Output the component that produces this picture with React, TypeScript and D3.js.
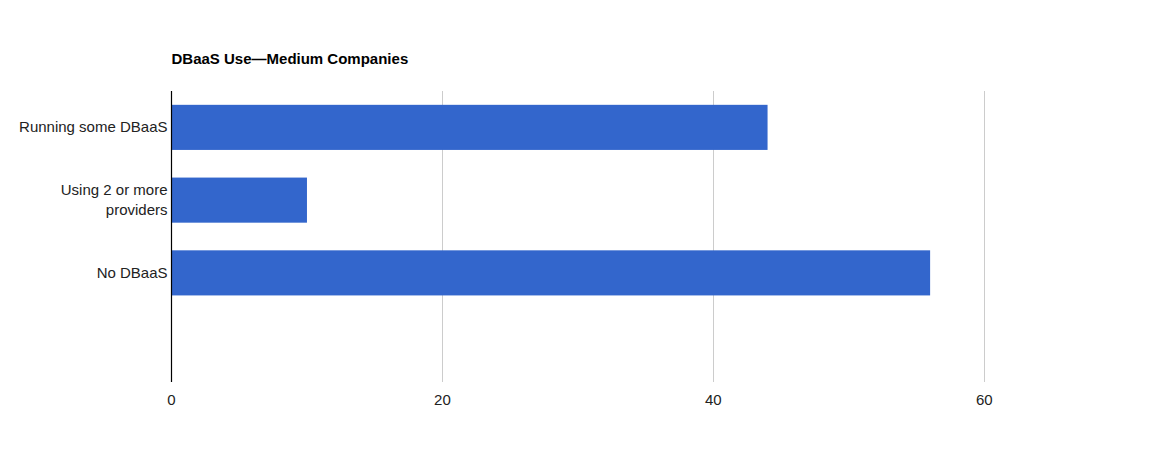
import React from "react";
import * as d3 from "d3";

const title = "DBaaS Use—Medium Companies";
const categories = ["Running some DBaaS", "Using 2 or more providers", "No DBaaS"];
const values = [44, 10, 56];
const categoryLines = [["Running some DBaaS"], ["Using 2 or more", "providers"], ["No DBaaS"]];
const xTicks = [0, 20, 40, 60];

export default function App() {
  const W = 1156, H = 473;
  const left = 171.5, top = 91, bottom = 382;
  const x = d3.scaleLinear().domain([0, 60]).range([left, 984.3]);
  const y = d3
    .scaleBand<string>()
    .domain([...categories, "__empty__"])
    .range([top, bottom])
    .paddingInner(0.38)
    .paddingOuter(0.19);
  const font = "Arial, 'Liberation Sans', sans-serif";
  return (
    <svg width={W} height={H} style={{ position: "absolute", left: 0, top: 0 }} fontFamily={font}>
      <rect x={0} y={0} width={W} height={H} fill="#fff" />
      <text x={left} y={64} fontSize={15} fontWeight="bold" fill="#000">{title}</text>
      {xTicks.filter((t) => t !== 0).map((t) => (
        <line key={t} x1={Math.round(x(t)) + 0.5} x2={Math.round(x(t)) + 0.5} y1={top} y2={bottom} stroke="#cccccc" strokeWidth={1} />
      ))}
      {categories.map((c, i) => (
        <rect key={c} x={x(0)} y={y(c)!} width={x(values[i]) - x(0)} height={y.bandwidth()} fill="#3366cc" />
      ))}
      <line x1={left} x2={left} y1={top} y2={bottom} stroke="#000" strokeWidth={1.2} />
      {xTicks.map((t) => (
        <text key={t} x={x(t)} y={405} fontSize={15} fill="#222" textAnchor="middle">{t}</text>
      ))}
      {categories.map((c, i) => {
        const lines = categoryLines[i];
        const cy = y(c)! + y.bandwidth() / 2;
        const lh = 20;
        const start = cy - ((lines.length - 1) * lh) / 2;
        return (
          <text key={c} x={left - 4} fontSize={15} fill="#222" textAnchor="end">
            {lines.map((l, j) => (
              <tspan key={j} x={left - 4} y={start + j * lh + 5}>{l}</tspan>
            ))}
          </text>
        );
      })}
    </svg>
  );
}
